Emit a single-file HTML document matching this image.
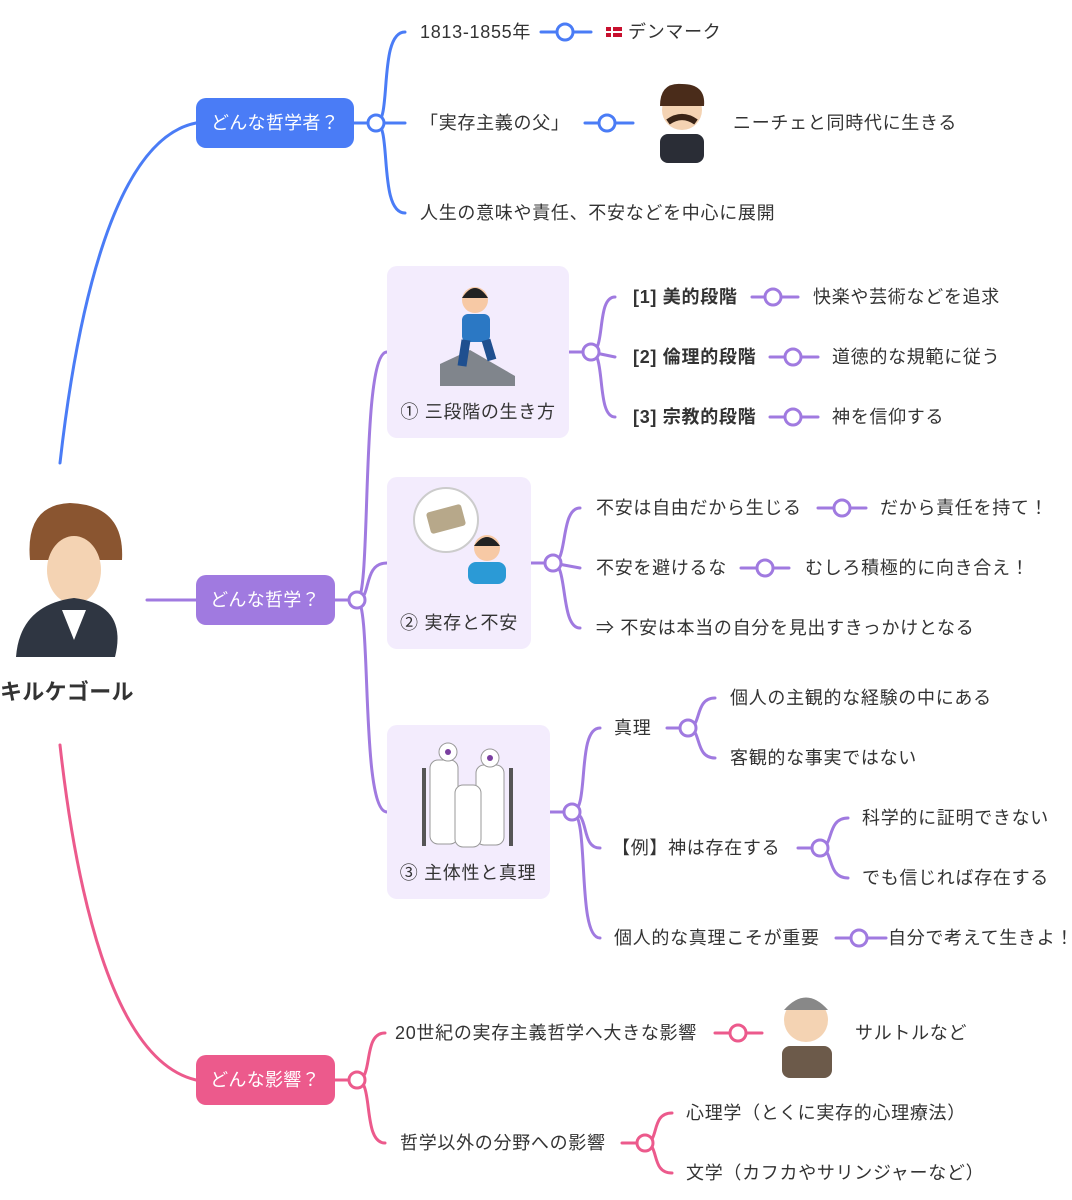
<!DOCTYPE html>
<html><head><meta charset="utf-8"><style>
html,body{margin:0;padding:0;background:#fff;}
svg{display:block;}
text{font-family:"Liberation Sans","Noto Sans CJK JP",sans-serif;font-size:18px;letter-spacing:0.7px;fill:#333;dominant-baseline:central;}
.w{fill:#fff;font-size:18px;letter-spacing:0.3px;}
.b{font-weight:bold;}
</style></head><body>
<svg width="1072" height="1200" viewBox="0 0 1072 1200" xmlns="http://www.w3.org/2000/svg">
<g fill="none" stroke-width="3" stroke-linecap="round">
<path d="M60 463 C75 330 110 140 196 123" stroke="#4a7cf6"/>
<path d="M147 600 L196 600" stroke="#a07ae0"/>
<path d="M60 745 C75 880 110 1060 196 1080" stroke="#ec5a8c"/>
<g stroke="#4a7cf6">
<path d="M354 123 L405 123"/>
<path d="M376 123 C392 123 378 32 405 32"/>
<path d="M376 123 C392 123 378 213 405 213"/>
<path d="M541 32 L591 32"/><path d="M585 123 L633 123"/>
</g>
<g stroke="#a07ae0">
<path d="M335 600 L357 600"/>
<path d="M357 600 C372 600 360 352 387 352"/>
<path d="M357 600 C372 600 362 563 387 563"/>
<path d="M357 600 C372 600 360 812 387 812"/>
<path d="M569 352 L591 352"/>
<path d="M591 352 C606 352 596 297 615 297"/>
<path d="M591 352 L615 357"/>
<path d="M591 352 C606 352 596 417 615 417"/>
<path d="M752 297 L798 297"/><path d="M770 357 L818 357"/><path d="M770 417 L818 417"/>
<path d="M531 563 L553 563"/>
<path d="M553 563 C568 563 560 508 580 508"/>
<path d="M553 563 L580 568"/>
<path d="M553 563 C568 563 560 628 580 628"/>
<path d="M818 508 L866 508"/><path d="M741 568 L789 568"/>
<path d="M550 812 L572 812"/>
<path d="M572 812 C590 812 576 728 600 728"/>
<path d="M572 812 C590 812 580 848 600 848"/>
<path d="M572 812 C590 812 576 938 600 938"/>
<path d="M667 728 L688 728"/>
<path d="M688 728 C702 728 694 698 715 698"/>
<path d="M688 728 C702 728 694 758 715 758"/>
<path d="M798 848 L820 848"/>
<path d="M820 848 C834 848 826 818 848 818"/>
<path d="M820 848 C834 848 826 878 848 878"/>
<path d="M836 938 L886 938"/>
</g>
<g stroke="#ec5a8c">
<path d="M335 1080 L357 1080"/>
<path d="M357 1080 C374 1080 362 1033 385 1033"/>
<path d="M357 1080 C374 1080 362 1143 385 1143"/>
<path d="M715 1033 L762 1033"/>
<path d="M622 1143 L645 1143"/>
<path d="M645 1143 C660 1143 650 1113 672 1113"/>
<path d="M645 1143 C660 1143 650 1173 672 1173"/>
</g>
</g>
<rect x="196" y="98" width="158" height="50" rx="10" fill="#4a7cf6"/>
<text x="275" y="123" text-anchor="middle" class="w">どんな哲学者？</text>
<rect x="196" y="575" width="139" height="50" rx="10" fill="#a07ae0"/>
<text x="265" y="600" text-anchor="middle" class="w">どんな哲学？</text>
<rect x="196" y="1055" width="139" height="50" rx="10" fill="#ec5a8c"/>
<text x="265" y="1080" text-anchor="middle" class="w">どんな影響？</text>
<rect x="387" y="266" width="182" height="172" rx="10" fill="#f3ecfd"/>
<rect x="387" y="477" width="144" height="172" rx="10" fill="#f3ecfd"/>
<rect x="387" y="725" width="163" height="174" rx="10" fill="#f3ecfd"/>
<text x="478" y="412" text-anchor="middle">① 三段階の生き方</text>
<text x="459" y="623" text-anchor="middle">② 実存と不安</text>
<text x="468" y="873" text-anchor="middle">③ 主体性と真理</text>
<polygon points="440,386 440,364 470,350 515,376 515,386" fill="#80858c"/>
<circle cx="475" cy="300" r="13" fill="#f7c9a5"/><path d="M462 298 Q475 278 488 298 Z" fill="#222"/>
<rect x="462" y="314" width="28" height="28" rx="6" fill="#2b78c4"/>
<path d="M466 340 L462 366 M486 340 L492 360" stroke="#1f4f8f" stroke-width="9"/>
<circle cx="446" cy="520" r="32" fill="#fff" stroke="#ccc" stroke-width="2"/>
<rect x="428" y="508" width="36" height="22" rx="3" fill="#b7a88a" transform="rotate(-15 446 519)"/>
<circle cx="487" cy="548" r="13" fill="#f7c9a5"/><path d="M474 546 Q487 528 500 546 Z" fill="#222"/>
<rect x="468" y="562" width="38" height="22" rx="8" fill="#2b9ad6"/>
<rect x="422" y="768" width="4" height="78" fill="#555"/><rect x="509" y="768" width="4" height="78" fill="#555"/>
<rect x="430" y="760" width="28" height="84" rx="8" fill="#fff" stroke="#999"/>
<rect x="476" y="765" width="28" height="80" rx="8" fill="#fff" stroke="#999"/>
<rect x="455" y="785" width="26" height="62" rx="8" fill="#fff" stroke="#999"/>
<circle cx="448" cy="752" r="9" fill="#fff" stroke="#999"/><circle cx="490" cy="758" r="9" fill="#fff" stroke="#999"/>
<circle cx="448" cy="752" r="3" fill="#7a3fa0"/><circle cx="490" cy="758" r="3" fill="#7a3fa0"/>
<path d="M30 560 Q25 505 70 503 Q125 505 122 560 Z" fill="#8a5530"/>
<ellipse cx="74" cy="570" rx="27" ry="34" fill="#f4d3b3"/>
<path d="M16 657 Q20 605 74 598 Q128 605 115 657 Z" fill="#2f3642"/>
<path d="M62 610 L74 640 L86 610 Z" fill="#fff"/>
<text x="0" y="692" class="b" style="font-size:22px;letter-spacing:0.3px">キルケゴール</text>
<circle cx="682" cy="110" r="20" fill="#f4d3b3"/><path d="M660 106 Q660 82 682 84 Q706 84 704 106 Z" fill="#4a2c1a"/>
<path d="M668 122 Q682 112 696 122" stroke="#3a2416" stroke-width="6" fill="none"/>
<rect x="660" y="134" width="44" height="29" rx="8" fill="#2a2d36"/>
<circle cx="806" cy="1020" r="22" fill="#f4d3b3"/><path d="M784 1010 Q806 985 828 1010 Z" fill="#888"/>
<rect x="782" y="1046" width="50" height="32" rx="8" fill="#6c5a4a"/>
<text x="420" y="32">1813-1855年</text>
<rect x="606" y="27" width="16" height="10" fill="#c8102e"/><rect x="611" y="27" width="2" height="10" fill="#fff"/><rect x="606" y="31" width="16" height="2" fill="#fff"/>
<text x="628" y="32">デンマーク</text>
<text x="420" y="123">「実存主義の父」</text>
<text x="733" y="123">ニーチェと同時代に生きる</text>
<text x="420" y="213">人生の意味や責任、不安などを中心に展開</text>
<text x="633" y="297" class="b">[1] 美的段階</text>
<text x="813" y="297">快楽や芸術などを追求</text>
<text x="633" y="357" class="b">[2] 倫理的段階</text>
<text x="832" y="357">道徳的な規範に従う</text>
<text x="633" y="417" class="b">[3] 宗教的段階</text>
<text x="832" y="417">神を信仰する</text>
<text x="596" y="508">不安は自由だから生じる</text>
<text x="880" y="508">だから責任を持て！</text>
<text x="596" y="568">不安を避けるな</text>
<text x="805" y="568">むしろ積極的に向き合え！</text>
<text x="596" y="628">⇒ 不安は本当の自分を見出すきっかけとなる</text>
<text x="614" y="728">真理</text>
<text x="730" y="698">個人の主観的な経験の中にある</text>
<text x="730" y="758">客観的な事実ではない</text>
<text x="612" y="848">【例】神は存在する</text>
<text x="862" y="818">科学的に証明できない</text>
<text x="862" y="878">でも信じれば存在する</text>
<text x="614" y="938">個人的な真理こそが重要</text>
<text x="888" y="938">自分で考えて生きよ！</text>
<text x="395" y="1033">20世紀の実存主義哲学へ大きな影響</text>
<text x="855" y="1033">サルトルなど</text>
<text x="400" y="1143">哲学以外の分野への影響</text>
<text x="686" y="1113">心理学（とくに実存的心理療法）</text>
<text x="686" y="1173">文学（カフカやサリンジャーなど）</text>
<g fill="#fff" stroke-width="3">
<circle cx="376" cy="123" r="8" stroke="#4a7cf6"/>
<circle cx="565" cy="32" r="8" stroke="#4a7cf6"/>
<circle cx="607" cy="123" r="8" stroke="#4a7cf6"/>
<circle cx="357" cy="600" r="8" stroke="#a07ae0"/>
<circle cx="591" cy="352" r="8" stroke="#a07ae0"/>
<circle cx="773" cy="297" r="8" stroke="#a07ae0"/>
<circle cx="793" cy="357" r="8" stroke="#a07ae0"/>
<circle cx="793" cy="417" r="8" stroke="#a07ae0"/>
<circle cx="553" cy="563" r="8" stroke="#a07ae0"/>
<circle cx="842" cy="508" r="8" stroke="#a07ae0"/>
<circle cx="765" cy="568" r="8" stroke="#a07ae0"/>
<circle cx="572" cy="812" r="8" stroke="#a07ae0"/>
<circle cx="688" cy="728" r="8" stroke="#a07ae0"/>
<circle cx="820" cy="848" r="8" stroke="#a07ae0"/>
<circle cx="859" cy="938" r="8" stroke="#a07ae0"/>
<circle cx="357" cy="1080" r="8" stroke="#ec5a8c"/>
<circle cx="738" cy="1033" r="8" stroke="#ec5a8c"/>
<circle cx="645" cy="1143" r="8" stroke="#ec5a8c"/>
</g>
</svg>
</body></html>
